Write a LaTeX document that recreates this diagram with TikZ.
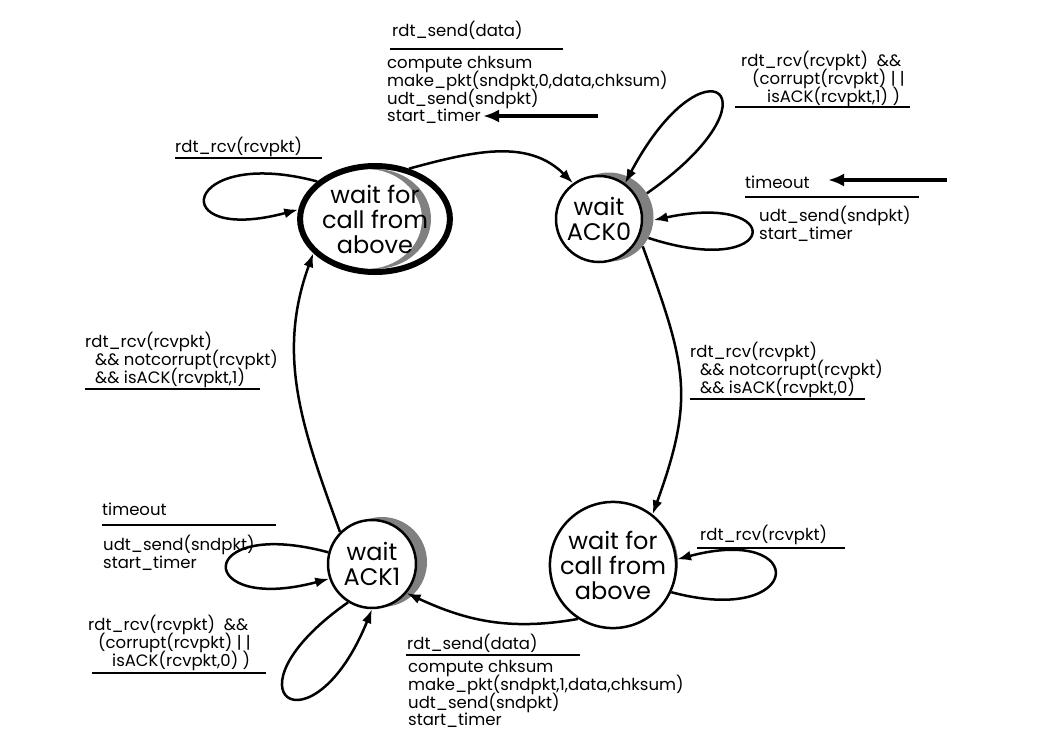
\documentclass[tikz,border=0pt]{standalone}
\usepackage{fontspec}
\setmainfont{Poppins}
\usetikzlibrary{arrows.meta,shapes.geometric}
\tikzset{
	state/.style={circle, draw, line width=2.5pt, fill=white, inner sep=0pt, align=center, font={\fontsize{24}{25}\selectfont\lineskiplimit-20pt\relax}},
	stateshade/.style={circle, fill=gray, inner sep=0pt},
	lbl/.style={anchor=north west, inner sep=0pt, align=left, font={\fontsize{16.5}{17.8}\selectfont\lineskiplimit-20pt\relax}},
	rule/.style={line width=2.7pt},
	trans/.style={line width=2.5pt, -{Latex[length=14pt,width=10pt]}},
	pointer/.style={line width=4pt, -{Latex[length=16pt,width=13pt]}}
}
\begin{document}
\begin{tikzpicture}[x=1pt,y=1pt]
		\useasboundingbox (0,0) rectangle (1037,-745);
		\node[ellipse, fill=gray, inner sep=0pt, minimum width=112, minimum height=100] (Ash) at (375,-219) {};
		\node[ellipse, fill=white, inner sep=0pt, minimum width=112, minimum height=100] (Awh) at (366,-219) {};
		\node[state, ellipse, fill=none, line width=6pt, minimum width=118, minimum height=106] (A) at (375,-219) {wait for\\call from\\above};
		\node[stateshade, minimum size=89] (Bsh) at (609,-217) {};
		\node[state, minimum size=86] (B) at (599,-219) {wait\\ACK0};
		\node[stateshade, minimum size=90] (Csh) at (382,-562) {};
		\node[state, minimum size=88] (C) at (372,-564) {wait\\ACK1};
		\node[stateshade, minimum size=112] (Dsh) at (622,-563) {};
		\node[state, minimum size=110] (D) at (613,-565) {wait for\\call from\\above};

		\draw[trans] (A.56) to[out=15, in=135] (B.126);
		\draw[trans] (Bsh.-41) to[out=-70, in=70, looseness=1.2] (D.52);
		\draw[trans] (D.237) to[out=190, in=-25] (C.-40);
		\draw[trans] (C.135) to[out=110, in=250] (A.209);
		\draw[trans] (A.147) .. controls +(165:140) and +(195:140) .. (A.173);
		\draw[trans] (Bsh.32) .. controls +(35:170) and +(62:170) .. (B.54);
		\draw[trans] (Bsh.-28) .. controls +(-18:138) and +(12:138) .. (Bsh.-4);
		\draw[trans] (D.-25) .. controls +(-15:138) and +(15:138) .. (D.5);
		\draw[trans] (C.165) .. controls +(165:140) and +(195:140) .. (C.199);
		\draw[trans] (C.238) .. controls +(215:160) and +(248:160) .. (C.-90);

		\node[lbl] (send0ev) at (392,-21) {rdt\_send(data)};
		\draw[rule] (390,-49) -- (563,-49);
		\node[lbl] (send0act) at (387,-56) {compute chksum\\make\_pkt(sndpkt,0,data,chksum)\\udt\_send(sndpkt)\\start\_timer};
		\coordinate (ptr0tail) at (598,-116);
		\coordinate (ptr0tip) at (483,-116);
		\draw[pointer] (ptr0tail) -- (ptr0tip);

		\node[lbl] (rcvAev) at (175,-137) {rdt\_rcv(rcvpkt)};
		\draw[rule] (175,-158) -- (322,-158);

		\node[lbl] (bad0ev) at (741,-51) {rdt\_rcv(rcvpkt)\ \ \&\&\\\hspace*{11pt}(corrupt(rcvpkt) | |\\\hspace*{26pt}isACK(rcvpkt,1) )};
		\draw[rule] (735,-107) -- (910,-107);

		\node[lbl] (tout0ev) at (745,-176) {timeout};
		\draw[rule] (745,-197) -- (919,-197);
		\node[lbl] (tout0act) at (759,-206) {udt\_send(sndpkt)\\start\_timer};
		\coordinate (ptr1tail) at (947,-180);
		\coordinate (ptr1tip) at (828,-180);
		\draw[pointer] (ptr1tail) -- (ptr1tip);

		\node[lbl] (ack0ev) at (690,-342) {rdt\_rcv(rcvpkt)\\\hspace*{10pt}\&\& notcorrupt(rcvpkt)\\\hspace*{10pt}\&\& isACK(rcvpkt,0)};
		\draw[rule] (690,-399) -- (865,-399);

		\node[lbl] (ack1ev) at (85,-332) {rdt\_rcv(rcvpkt)\\\hspace*{10pt}\&\& notcorrupt(rcvpkt)\\\hspace*{10pt}\&\& isACK(rcvpkt,1)};
		\draw[rule] (85,-389) -- (260,-389);

		\node[lbl] (tout1ev) at (102,-503) {timeout};
		\draw[rule] (102,-525) -- (276,-525);
		\node[lbl] (tout1act) at (103,-535) {udt\_send(sndpkt)\\start\_timer};

		\node[lbl] (bad1ev) at (88,-615) {rdt\_rcv(rcvpkt)\ \ \&\&\\\hspace*{10pt}(corrupt(rcvpkt) | |\\\hspace*{24pt}isACK(rcvpkt,0) )};
		\draw[rule] (92,-673) -- (266,-673);

		\node[lbl] (rcvDev) at (700,-525) {rdt\_rcv(rcvpkt)};
		\draw[rule] (697,-548) -- (845,-548);

		\node[lbl] (send1ev) at (407,-634) {rdt\_send(data)};
		\draw[rule] (406,-655) -- (580,-655);
		\node[lbl] (send1act) at (408,-660) {compute chksum\\make\_pkt(sndpkt,1,data,chksum)\\udt\_send(sndpkt)\\start\_timer};
	\end{tikzpicture}
\end{document}
